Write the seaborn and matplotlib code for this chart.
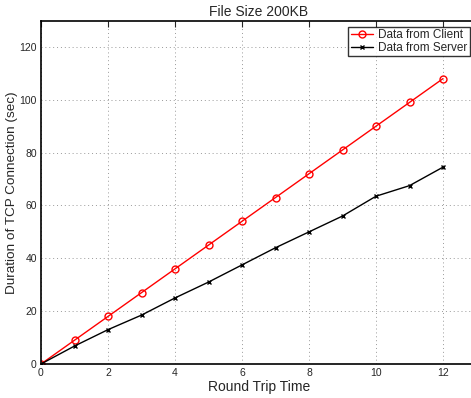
import seaborn as sns
import pandas as pd
import matplotlib.pyplot as plt

rtt = [0, 1, 2, 3, 4, 5, 6, 7, 8, 9, 10, 11, 12]
client = [0, 9, 18, 27, 36, 45, 54, 63, 72, 81, 90, 99, 108]
server = [0, 6.8, 13, 18.5, 25, 31, 37.5, 44, 50, 56, 63.5, 67.5, 74.5]

df = pd.DataFrame({"rtt": rtt, "client": client, "server": server})

sns.set_style("white")
plt.rcParams["font.family"] = ["Liberation Sans", "DejaVu Sans"]

fig = plt.figure(figsize=(4.71, 3.98), dpi=100)
ax = fig.add_axes([41 / 471, 1 - 364 / 398, 435.5 / 471, 343.5 / 398])

sns.lineplot(data=df, x="rtt", y="client", color="red", marker="o",
             markersize=5, markerfacecolor="none", markeredgecolor="red",
             markeredgewidth=1, linewidth=1, ax=ax, label="Data from Client")
sns.lineplot(data=df, x="rtt", y="server", color="black", marker="x",
             markersize=3.5, markeredgecolor="black", markeredgewidth=1,
             linewidth=1, ax=ax, label="Data from Server")

ax.set_xlim(0, 13)
ax.set_ylim(0, 130)
ax.set_xticks([0, 2, 4, 6, 8, 10, 12])
ax.set_yticks([0, 20, 40, 60, 80, 100, 120])
ax.tick_params(direction="in", labelsize=7.5, length=4, width=0.8, pad=3,
               top=True, right=True)
ax.grid(True, linestyle=(0, (1, 3)), color="#999999", linewidth=0.7)
for s in ax.spines.values():
    s.set_linewidth(1.2)
    s.set_color("black")

ax.set_xlabel("Round Trip Time", fontsize=10, labelpad=1)
ax.set_ylabel("Duration of TCP Connection (sec)", fontsize=9.7, labelpad=1)
ax.set_title("File Size 200KB", fontsize=10, pad=3)

leg = ax.legend(loc="upper right", bbox_to_anchor=(0.985, 0.981), fontsize=8.5,
                frameon=True, fancybox=False, edgecolor="black",
                borderpad=0.2, labelspacing=0.05, handlelength=1.9,
                handletextpad=0.45, borderaxespad=0)
leg.get_frame().set_linewidth(1)

plt.savefig("out.png", dpi=100)
